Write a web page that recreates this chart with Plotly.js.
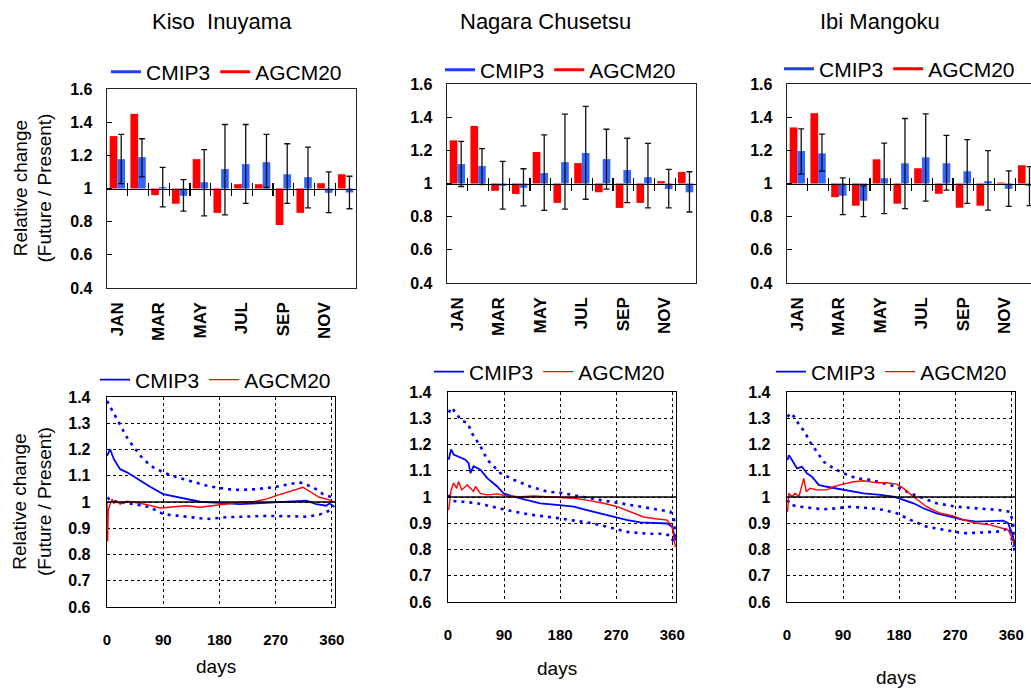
<!DOCTYPE html>
<html><head><meta charset="utf-8">
<script src="https://cdn.plot.ly/plotly-3.0.1.min.js"></script>
<style>html,body{margin:0;padding:0;background:#fff}#chart{width:1031px;height:689px}</style>
</head><body><div id="chart"></div>
<script>
// ---------------- DATA ----------------
const MONTHS = ['JAN','FEB','MAR','APR','MAY','JUN','JUL','AUG','SEP','OCT','NOV','DEC'];
const MONTH_TICKS = ['JAN','MAR','MAY','JUL','SEP','NOV'];
const STATIONS = ['Kiso\u00a0 Inuyama', 'Nagara Chusetsu', 'Ibi Mangoku'];
const DAY_TICKS = [0, 90, 180, 270, 360];

// monthly relative change (future/present)
const KISO_AGCM    = [1.316,1.450,0.960,0.908,1.177,0.853,1.026,1.026,0.780,0.853,1.032,1.086];
const KISO_CMIP    = [1.177,1.189,1.008,0.956,1.038,1.117,1.147,1.159,1.086,1.068,0.974,0.976];
const KISO_CMIP_HI = [1.326,1.300,1.127,1.054,1.235,1.386,1.386,1.326,1.270,1.249,1.100,1.074];
const KISO_CMIP_LO = [1.030,1.070,0.889,0.863,0.835,0.841,0.910,1.006,0.910,0.883,0.855,0.878];

const NAGARA_AGCM    = [1.260,1.347,0.956,0.937,1.190,0.883,1.123,0.947,0.853,0.883,1.014,1.069];
const NAGARA_CMIP    = [1.117,1.105,0.986,0.974,1.063,1.129,1.184,1.147,1.081,1.038,0.966,0.947];
const NAGARA_CMIP_HI = [1.254,1.210,1.133,1.089,1.293,1.418,1.465,1.327,1.273,1.242,1.085,1.071];
const NAGARA_CMIP_LO = [0.982,0.994,0.845,0.865,0.838,0.845,0.905,0.966,0.885,0.853,0.853,0.828];

const IBI_AGCM    = [1.338,1.424,0.918,0.866,1.146,0.878,1.092,0.938,0.854,0.866,1.006,1.110];
const IBI_CMIP    = [1.196,1.182,0.926,0.896,1.032,1.122,1.158,1.122,1.074,1.014,0.968,0.986];
const IBI_CMIP_HI = [1.330,1.298,1.034,0.986,1.244,1.392,1.420,1.290,1.264,1.198,1.076,1.102];
const IBI_CMIP_LO = [1.056,1.074,0.812,0.800,0.818,0.848,0.894,0.960,0.880,0.840,0.862,0.866];

// flow duration (days) relative change
const KISO_MEAN_D = [0,3,5,11,16,21,32,43,53,69,90,112,128,149,180,213,239,270,303,319,335,351,356,364];
const KISO_MEAN_V = [1.176,1.195,1.201,1.163,1.144,1.125,1.113,1.096,1.081,1.058,1.030,1.020,1.011,1.001,0.997,0.992,0.995,0.999,1.003,1.005,0.992,0.986,0.995,0.982];
const KISO_UP_D = [0,3,11,21,32,43,58,74,90,112,133,160,191,213,239,266,292,308,330,346,360,364];
const KISO_UP_V = [1.385,1.372,1.334,1.296,1.246,1.208,1.163,1.132,1.113,1.094,1.081,1.062,1.049,1.046,1.049,1.056,1.068,1.075,1.056,1.030,1.018,1.011];
const KISO_LO_D = [1,5,21,43,69,90,112,138,160,191,223,255,287,319,340,356,362];
const KISO_LO_V = [1.018,1.005,0.999,0.992,0.980,0.954,0.948,0.942,0.935,0.942,0.944,0.947,0.946,0.944,0.952,0.967,0.986];
const KISO_AG_D = [0,1,2,5,8,11,16,21,32,43,53,64,85,106,128,149,170,191,213,234,255,271,287,303,314,324,340,356,364];
const KISO_AG_V = [1.000,0.850,0.970,0.992,1.011,0.995,1.003,0.992,1.003,0.999,0.995,0.990,0.977,0.980,0.986,0.980,0.986,0.992,0.999,1.001,1.011,1.024,1.037,1.047,1.056,1.041,1.018,1.008,0.999];

const NAGARA_MEAN_D = [1,5,9,20,28,33,36,41,52,63,79,89,106,127,148,179,202,223,245,266,288,309,330,352,360,365];
const NAGARA_MEAN_V = [1.142,1.181,1.162,1.149,1.142,1.129,1.091,1.117,1.104,1.072,1.040,1.014,1.001,0.988,0.976,0.969,0.963,0.950,0.937,0.924,0.912,0.903,0.901,0.899,0.886,0.835];
const NAGARA_UP_D = [1,6,14,22,31,41,52,63,84,106,132,159,186,213,245,277,309,341,357,363,365];
const NAGARA_UP_V = [1.322,1.341,1.315,1.290,1.283,1.232,1.194,1.142,1.091,1.065,1.040,1.021,1.014,1.001,0.988,0.976,0.963,0.950,0.944,0.912,0.835];
const NAGARA_LO_D = [1,6,14,25,47,73,106,138,181,234,266,288,320,341,357,365];
const NAGARA_LO_V = [1.008,0.988,0.982,0.982,0.976,0.963,0.944,0.931,0.918,0.899,0.879,0.867,0.860,0.860,0.854,0.815];
const NAGARA_AG_D = [1,5,9,14,17,22,31,41,44,52,63,79,95,116,138,159,181,202,223,250,272,293,314,330,352,360,365];
const NAGARA_AG_V = [0.950,1.027,1.053,1.033,1.059,1.027,1.046,1.021,1.040,1.014,1.008,1.012,1.004,1.001,1.004,1.001,0.999,0.995,0.988,0.976,0.963,0.944,0.924,0.918,0.912,0.886,0.809];

const IBI_MEAN_D = [1,3,8,16,24,32,40,51,64,80,101,123,150,171,187,203,219,240,262,283,304,326,347,355,363,365];
const IBI_MEAN_V = [1.141,1.159,1.141,1.109,1.115,1.090,1.077,1.046,1.039,1.033,1.023,1.014,1.008,1.001,0.989,0.976,0.957,0.938,0.925,0.913,0.906,0.909,0.910,0.900,0.849,0.811];
const IBI_UP_D = [1,5,13,21,27,37,48,59,75,91,112,134,155,176,198,219,240,272,304,337,358,363,365];
const IBI_UP_V = [1.305,1.320,1.303,1.267,1.254,1.210,1.172,1.134,1.109,1.090,1.071,1.065,1.052,1.039,1.014,0.995,0.976,0.963,0.957,0.951,0.944,0.900,0.786];
const IBI_LO_D = [1,5,21,43,59,80,101,134,155,176,198,224,251,283,315,337,358,363];
const IBI_LO_V = [0.989,0.970,0.963,0.957,0.953,0.957,0.963,0.957,0.951,0.938,0.913,0.887,0.875,0.862,0.865,0.868,0.881,0.811];
const IBI_AG_D = [1,3,8,13,19,27,31,37,48,64,75,85,107,123,144,160,176,187,203,224,246,267,283,304,326,347,355,365];
const IBI_AG_V = [0.944,1.014,1.001,1.014,1.001,1.071,1.020,1.033,1.027,1.027,1.039,1.046,1.058,1.062,1.054,1.054,1.049,1.033,1.001,0.963,0.938,0.928,0.913,0.900,0.894,0.881,0.875,0.824];

// ---------------- LAYOUT HELPERS ----------------
const W = 1031, H = 689;
const fx = p => p / W;
const fy = p => 1 - p / H;
const FONT = '"Liberation Sans", Arial, sans-serif';
const RED = '#ff0000', BAR_BLUE = '#3366ff', LINE_BLUE = '#0000ff', LEG_BLUE = '#1f3cff';

const topPanels = [
  {agcm: KISO_AGCM, cmip: KISO_CMIP, hi: KISO_CMIP_HI, lo: KISO_CMIP_LO, box: [107,356,89,288], span: 12, leg: [106,72]},
  {agcm: NAGARA_AGCM, cmip: NAGARA_CMIP, hi: NAGARA_CMIP_HI, lo: NAGARA_CMIP_LO, box: [447,696,84,283], span: 12, leg: [440,70]},
  {agcm: IBI_AGCM, cmip: IBI_CMIP, hi: IBI_CMIP_HI, lo: IBI_CMIP_LO, box: [787,1031,84,283], span: 12*244/249, leg: [779,69]}
];
const botPanels = [
  {mean:[KISO_MEAN_D,KISO_MEAN_V], up:[KISO_UP_D,KISO_UP_V], lo:[KISO_LO_D,KISO_LO_V], ag:[KISO_AG_D,KISO_AG_V], box:[107,335,397,607], xmax:365, leg:[95,380], days:666},
  {mean:[NAGARA_MEAN_D,NAGARA_MEAN_V], up:[NAGARA_UP_D,NAGARA_UP_V], lo:[NAGARA_LO_D,NAGARA_LO_V], ag:[NAGARA_AG_D,NAGARA_AG_V], box:[448,676,392,602], xmax:366, leg:[429,372], days:668},
  {mean:[IBI_MEAN_D,IBI_MEAN_V], up:[IBI_UP_D,IBI_UP_V], lo:[IBI_LO_D,IBI_LO_V], ag:[IBI_AG_D,IBI_AG_V], box:[787,1015,392,602], xmax:366, leg:[771,372], days:677}
];
const titleX = [222, 545, 880];

const monthTick = {family: FONT, size: 17, color: '#000', weight: 'bold'};
const valTick = {family: FONT, size: 16, color: '#000', weight: 'bold'};
const dayTick = {family: FONT, size: 15, color: '#000', weight: 'bold'};
const legendBase = {orientation: 'h', xanchor: 'left', yanchor: 'middle', bgcolor: 'rgba(0,0,0,0)',
  borderwidth: 0, font: {family: FONT, size: 21, color: '#000'}, itemwidth: 30, traceorder: 'normal',
  itemclick: false, itemdoubleclick: false};

const data = [];
const layout = {
  width: W, height: H, margin: {l: 0, r: 0, t: 0, b: 0},
  paper_bgcolor: '#fff', plot_bgcolor: '#fff',
  font: {family: FONT, color: '#000'},
  barmode: 'group', bargap: 0.26, bargroupgap: 0,
  showlegend: true, shapes: [], annotations: []
};
const sfx = n => (n === 1 ? '' : String(n));

topPanels.forEach((p, i) => {
  const n = i + 1, xs = 'x' + sfx(n), ys = 'y' + sfx(n);
  const legId = 'legend' + sfx(n);
  const o1 = 7 + 2 * i, o2 = 8 + 2 * i;
  data.push({type: 'bar', x: MONTHS, y: p.agcm.map(v => v - 1), base: 1, name: 'AGCM20',
    marker: {color: RED, line: {width: 0}}, xaxis: xs, yaxis: ys, showlegend: false, hoverinfo: 'skip'});
  data.push({type: 'bar', x: MONTHS, y: p.cmip.map(v => v - 1), base: 1, name: 'CMIP3',
    marker: {color: BAR_BLUE, line: {width: 0}}, xaxis: xs, yaxis: ys, showlegend: false, hoverinfo: 'skip',
    error_y: {type: 'data', symmetric: false, array: p.hi.map((h, k) => h - p.cmip[k]),
      arrayminus: p.lo.map((l, k) => p.cmip[k] - l), color: '#111', thickness: 1.3, width: 3}});
  // legend-only entries (line symbols) attached to the tick-overlay axes
  data.push({type: 'scatter', mode: 'lines', x: [null], y: [null], name: 'CMIP3', line: {color: LEG_BLUE, width: 3},
    xaxis: 'x' + o1, yaxis: ys, legend: legId, showlegend: true, hoverinfo: 'skip'});
  data.push({type: 'scatter', mode: 'lines', x: [null], y: [null], name: 'AGCM20', line: {color: RED, width: 3},
    xaxis: 'x' + o2, yaxis: ys, legend: legId, showlegend: true, hoverinfo: 'skip'});

  const [x0, x1, y0, y1] = p.box;
  const xr = [-0.5, -0.5 + p.span];
  layout['xaxis' + sfx(n)] = {domain: [fx(x0), fx(x1)], anchor: ys, type: 'category', categoryorder: 'array',
    categoryarray: MONTHS, range: xr, tickmode: 'array', tickvals: MONTH_TICKS, ticktext: MONTH_TICKS,
    tickangle: -90, tickfont: monthTick, ticks: '', ticklabelstandoff: 6, showgrid: false, zeroline: false,
    showline: true, mirror: true, linecolor: '#222', linewidth: 1.4, fixedrange: true};
  layout['yaxis' + sfx(n)] = {domain: [fy(y1), fy(y0)], anchor: xs, range: [0.4, 1.6], tick0: 0.4, dtick: 0.2,
    ticks: 'inside', ticklen: 5, tickcolor: '#000', tickwidth: 1.2, tickfont: valTick, ticklabelstandoff: 10,
    showgrid: false, zeroline: false, showline: true, mirror: true, linecolor: '#222', linewidth: 1.4, fixedrange: true};
  const boundaries = MONTHS.slice(1).map((m, k) => k + 0.5);
  const ov = {overlaying: xs, anchor: 'free', position: fy((y0 + y1) / 2), domain: [fx(x0), fx(x1)],
    range: xr, type: 'linear', tickmode: 'array', tickvals: boundaries, ticklen: 6, tickwidth: 1.3,
    tickcolor: '#000', showticklabels: false, showgrid: false, zeroline: false, fixedrange: true};
  layout['xaxis' + o1] = Object.assign({}, ov, {ticks: 'outside', showline: true, linecolor: '#000', linewidth: 1.4});
  layout['xaxis' + o2] = Object.assign({}, ov, {ticks: 'inside', showline: false});
  layout[legId] = Object.assign({}, legendBase, {x: fx(p.leg[0]), y: fy(p.leg[1])});

  layout.annotations.push({text: STATIONS[i], xref: 'paper', yref: 'paper', x: fx(titleX[i]), y: fy(21),
    xanchor: 'center', yanchor: 'middle', showarrow: false, font: {family: FONT, size: 22, color: '#000'}});
});

botPanels.forEach((p, j) => {
  const n = 4 + j, xs = 'x' + n, ys = 'y' + n, legId = 'legend' + n;
  const dot = {color: LINE_BLUE, width: 2.6, dash: '3px,5px'};
  data.push({type: 'scatter', mode: 'lines', x: p.up[0], y: p.up[1], name: 'CMIP3 max', line: dot,
    xaxis: xs, yaxis: ys, showlegend: false, hoverinfo: 'skip'});
  data.push({type: 'scatter', mode: 'lines', x: p.lo[0], y: p.lo[1], name: 'CMIP3 min', line: dot,
    xaxis: xs, yaxis: ys, showlegend: false, hoverinfo: 'skip'});
  data.push({type: 'scatter', mode: 'lines', x: p.mean[0], y: p.mean[1], name: 'CMIP3',
    line: {color: LINE_BLUE, width: 1.8}, xaxis: xs, yaxis: ys, legend: legId, showlegend: true, hoverinfo: 'skip'});
  data.push({type: 'scatter', mode: 'lines', x: p.ag[0], y: p.ag[1], name: 'AGCM20',
    line: {color: RED, width: 1.4}, xaxis: xs, yaxis: ys, legend: legId, showlegend: true, hoverinfo: 'skip'});

  const [x0, x1, y0, y1] = p.box;
  const grid = {showgrid: true, gridcolor: '#000', gridwidth: 1, griddash: '3px,3px'};
  layout['xaxis' + n] = Object.assign({domain: [fx(x0), fx(x1)], anchor: ys, range: [0, p.xmax],
    tickmode: 'array', tickvals: DAY_TICKS, ticks: '', tickfont: dayTick, ticklabelstandoff: 19,
    zeroline: false, showline: true, mirror: true, linecolor: '#000', linewidth: 1.3, fixedrange: true}, grid);
  layout['yaxis' + n] = Object.assign({domain: [fy(y1), fy(y0)], anchor: xs, range: [0.6, 1.4], tick0: 0.6, dtick: 0.1,
    ticks: '', tickfont: valTick, ticklabelstandoff: 12, zeroline: false, showline: true, mirror: true,
    linecolor: '#000', linewidth: 1.3, fixedrange: true}, grid);
  layout.shapes.push({type: 'line', xref: xs + ' domain', x0: 0, x1: 1, yref: ys, y0: 1, y1: 1,
    line: {color: '#000', width: 1.3}});
  layout[legId] = Object.assign({}, legendBase, {x: fx(p.leg[0]), y: fy(p.leg[1])});
  layout.annotations.push({text: 'days', xref: 'paper', yref: 'paper', x: fx((x0 + x1) / 2 - 5), y: fy(p.days),
    xanchor: 'center', yanchor: 'middle', showarrow: false, font: {family: FONT, size: 19, color: '#000'}});
});

// y-axis titles on the left column
[[89, 288], [397, 607]].forEach(([a, b]) => {
  layout.annotations.push({text: 'Relative change<br>(Future / Present)', textangle: -90, xref: 'paper', yref: 'paper',
    x: fx(32), y: fy((a + b) / 2), xanchor: 'center', yanchor: 'middle', showarrow: false,
    font: {family: FONT, size: 19, color: '#000'}});
});

Plotly.newPlot('chart', data, layout, {displayModeBar: false, staticPlot: true});
</script></body></html>
